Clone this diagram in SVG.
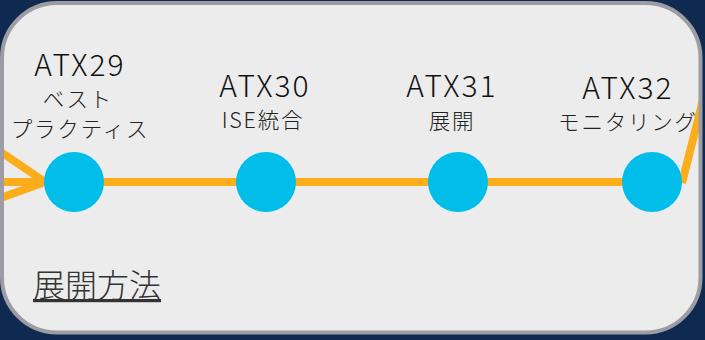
<svg xmlns="http://www.w3.org/2000/svg" width="705" height="340" viewBox="0 0 705 340">
<style>
.t{font-family:"Noto Sans CJK JP","Noto Sans",sans-serif;font-weight:300;fill:#111;text-anchor:middle}
.id{font-size:30px;letter-spacing:2px}
.sub{font-size:21.5px;letter-spacing:1.8px;fill:#222}
.node{fill:#00bde9}
.c{stroke:#fbad1b;stroke-width:8;fill:none;stroke-linecap:butt}
</style>
<defs>
<clipPath id="panelClip"><rect x="2" y="3" width="698.5" height="329.5" rx="55" ry="55"/></clipPath>
</defs>
<rect x="0" y="0" width="705" height="340" fill="#0e2a50"/>
<rect x="2" y="3" width="698.5" height="329.5" rx="55" ry="55" fill="#ececec"/>
<g id="connectors" clip-path="url(#panelClip)">
<line class="c" x1="-5" y1="148" x2="45" y2="182"/>
<line class="c" x1="-5" y1="200" x2="45" y2="182"/>
<line class="c" x1="-5" y1="182" x2="652" y2="182"/>
<line class="c" x1="682" y1="183" x2="706" y2="88"/>
</g>
<rect x="2" y="3" width="698.5" height="329.5" rx="55" ry="55" fill="none" stroke="#9c9ca2" stroke-width="4"/>
<g id="atx29">
<circle class="node" cx="74" cy="182" r="30"/>
<text class="t id" x="80" y="76">ATX29</text>
<text class="t sub" x="78" y="107">ベスト</text>
<text class="t sub" x="80" y="137">プラクティス</text>
</g>
<g id="atx30">
<circle class="node" cx="266" cy="182" r="30"/>
<text class="t id" x="265" y="97">ATX30</text>
<text class="t sub" x="263" y="128">ISE統合</text>
</g>
<g id="atx31">
<circle class="node" cx="458" cy="182" r="30"/>
<text class="t id" x="452" y="97">ATX31</text>
<text class="t sub" x="452" y="129">展開</text>
</g>
<g id="atx32">
<circle class="node" cx="652" cy="182" r="30"/>
<text class="t id" x="628" y="99">ATX32</text>
<text class="t sub" x="628" y="130">モニタリング</text>
</g>
<g id="method">
<text x="97" y="297" font-family="Noto Sans CJK JP, sans-serif" font-weight="300" font-size="32" fill="#333" text-anchor="middle" text-decoration="underline">展開方法</text>
</g>
</svg>
